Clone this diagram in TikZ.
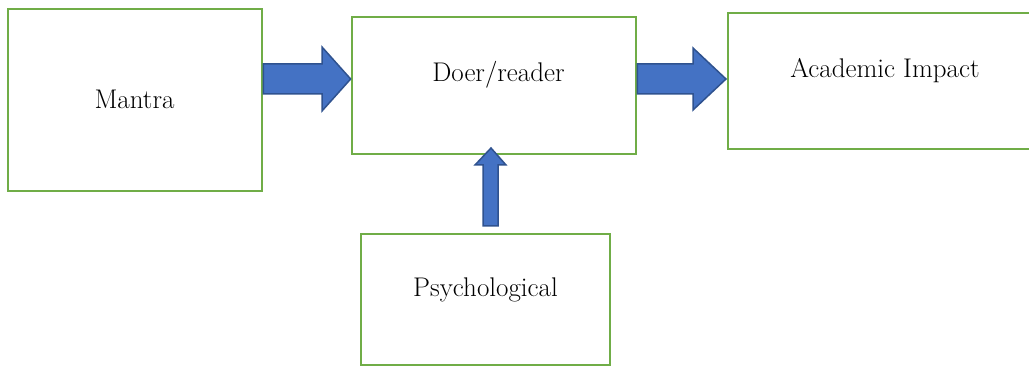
\documentclass[tikz,border=0pt]{standalone}
\usetikzlibrary{calc}
\definecolor{boxgreen}{RGB}{112,173,71}
\definecolor{arrowfill}{RGB}{68,114,196}
\definecolor{arrowline}{RGB}{47,82,143}
\begin{document}
\begin{tikzpicture}[x=1pt,y=-1pt,
  box/.style={draw=boxgreen,line width=2.7pt,rectangle,inner sep=0pt,fill=white},
  lbl/.style={anchor=base,inner sep=0pt,font=\fontsize{27}{32}\selectfont},
  blockarrow/.style={fill=arrowfill,draw=arrowline,line width=1.5pt,line join=miter}]
\useasboundingbox (0,0) rectangle (1029,366);
\fill[white] (0,0) rectangle (1029,366);
\clip (0,0) rectangle (1029,366);
% boxes
\node[box,minimum width=254pt,minimum height=182pt] (mantra) at (135,100) {};
\node[box,minimum width=284pt,minimum height=137pt] (doer) at (494,85.5) {};
\node[box,minimum width=310pt,minimum height=136pt] (acad) at (883,81) {};
\node[box,minimum width=249pt,minimum height=131pt] (psy) at (485.5,299.5) {};
% labels
\node[lbl] (tmantra) at (134.5,109) {Mantra};
\node[lbl] (tdoer) at (498.5,82) {Doer/reader};
\node[lbl] (tacad) at (885,78) {Academic Impact};
\node[lbl] (tpsy) at (485.5,297) {Psychological};
% block arrows
\draw[blockarrow] (mantra.east |- 0,64) -- (322,64) -- (322,47) -- (doer.west |- 0,79)
  -- (322,111) -- (322,94) -- (mantra.east |- 0,94) -- cycle;
\draw[blockarrow] (doer.east |- 0,64) -- (693,64) -- (693,48) -- (726,79)
  -- (693,110) -- (693,94) -- (doer.east |- 0,94) -- cycle;
\draw[blockarrow] (483,226) -- (483,165) -- (475,165) -- (491,148)
  -- (506,165) -- (498,165) -- (498,226) -- cycle;
\end{tikzpicture}
\end{document}
